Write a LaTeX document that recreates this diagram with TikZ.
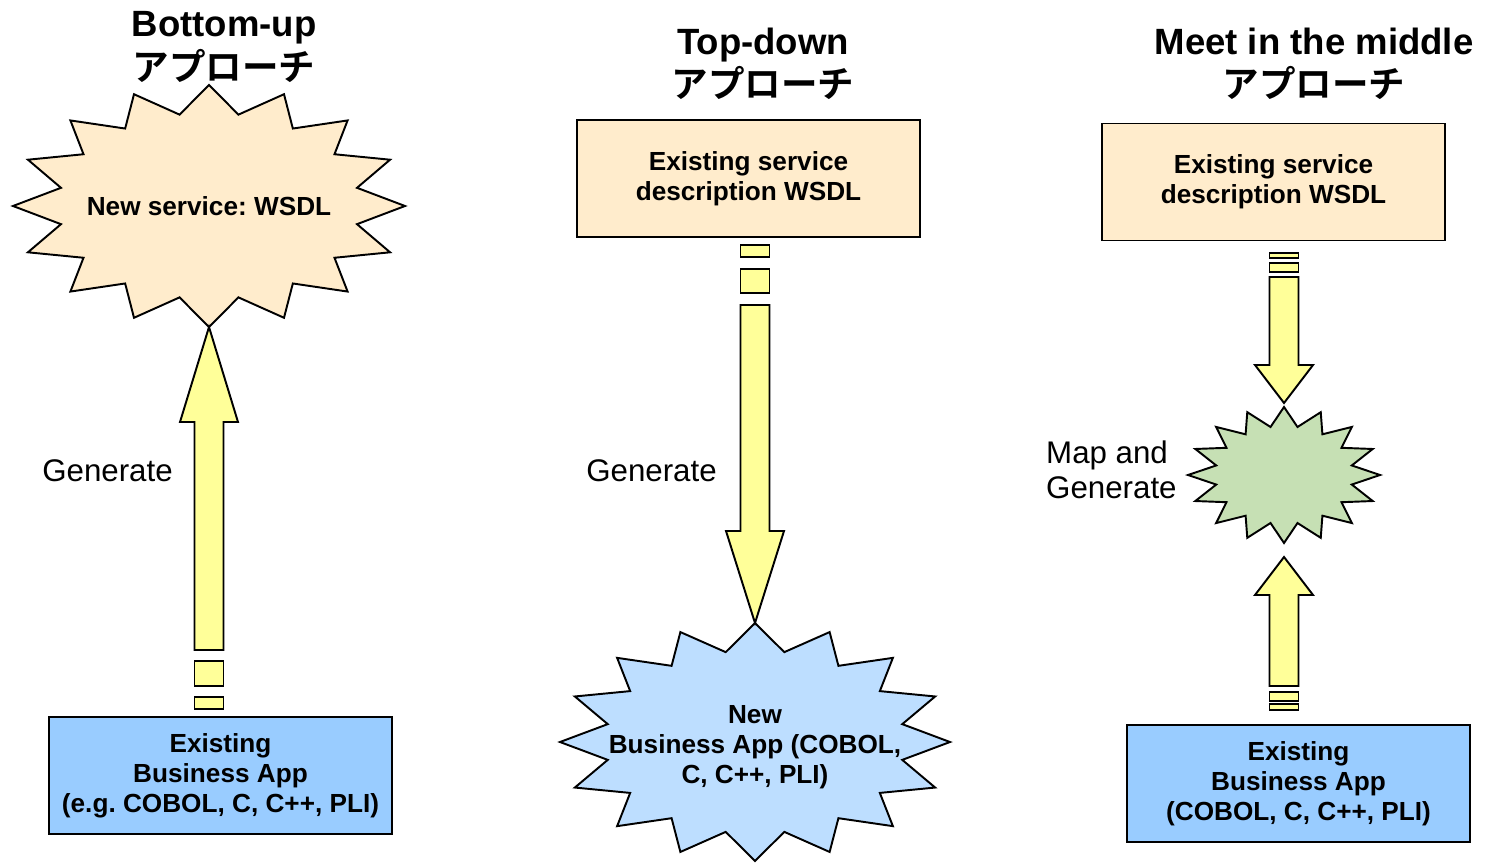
\documentclass[tikz,border=0pt]{standalone}
\usepackage{fontspec}
\setmainfont{Liberation Sans}
\newfontfamily\jpfont{Noto Sans CJK JP}[BoldFont={Noto Sans CJK JP Bold}]
\usetikzlibrary{calc}
\frenchspacing

\definecolor{svcfill}{RGB}{255,236,204}
\definecolor{appfill}{RGB}{153,204,255}
\definecolor{newappfill}{RGB}{189,222,255}
\definecolor{mapfill}{RGB}{198,224,180}
\definecolor{genfill}{RGB}{255,255,153}

\tikzset{
  outline/.style={draw=black, line width=1.1pt, line join=miter},
  boxtext/.style={font=\fontsize{14.9}{17}\selectfont\bfseries, align=center},
  svcbox/.style={outline, boxtext, fill=svcfill, minimum width=6.86cm, minimum height=2.34cm},
  appbox/.style={svcbox, fill=appfill},
  title/.style={font=\fontsize{20.8}{24.5}\selectfont\bfseries, align=center},
  gentext/.style={font=\fontsize{17.8}{20}\selectfont},
}

% starburst: [text options], name, centre, rx, ry, inner ratio, fill, text
\newcommand{\burst}[8][]{%
  \draw[outline, fill=#7, shift={#3}] plot[samples at={0,...,31}]
    ({#4*(1-(1-#6)*mod(\x,2))*cos(90+11.25*\x)}, {#5*(1-(1-#6)*mod(\x,2))*sin(90+11.25*\x)}) -- cycle;
  \node[boxtext, #1] (#2) at #3 {#8};
  \coordinate (#2-n) at ($#3+(0,-#5)$);
  \coordinate (#2-s) at ($#3+(0,#5)$);}

% block arrow: tip, 1 = up / -1 = down, head length, shaft end, dashes
\newcommand{\genarrow}[5]{%
  \begin{scope}[yscale=#2]
    \draw[outline, fill=genfill] (#1) -- ++(29,#3) -- ++(-14.5,0) -- ++(0,#4-#3)
      -- ++(-29,0) -- ++(0,#3-#4) -- ++(-14.5,0) -- cycle;
    \foreach \dstart/\dlen in {#5}
      \draw[outline, fill=genfill] (#1) ++(-14.5,\dstart) rectangle ++(29,\dlen);
  \end{scope}}

\begin{document}
\begin{tikzpicture}[x=0.02cm, y=-0.02cm]
  \useasboundingbox (0,0) rectangle (1486,862);

  % Bottom-up
  \node[title] (bu) at (224,47) {Bottom-up\\{\jpfont アプローチ}};
  \burst{newsvc}{(209,206)}{196}{121}{0.77}{svcfill}{New service: WSDL}
  \node[appbox] (oldapp) at (220.5,775.5) {Existing\\Business App\\(e.g. COBOL, C, C++, PLI)};
  \genarrow{newsvc-s}{1}{95}{323}{334/25, 370/12}
  \node[gentext] (gen1) at (107.5,471) {Generate};

  % Top-down
  \node[title] (td) at (763,64) {Top-down\\{\jpfont アプローチ}};
  \node[svcbox] (oldsvc) at (748.5,178.5) {Existing service\\description WSDL};
  \burst[yshift=-0.1cm]{newapp}{(755,742)}{195}{119}{0.77}{newappfill}{New\\Business App (COBOL,\\C, C++, PLI)}
  \genarrow{newapp-n}{-1}{92}{318}{330/24, 366/12}
  \node[gentext] (gen2) at (651.5,471) {Generate};

  % Meet in the middle
  \node[title] (mm) at (1314,64) {Meet in the middle\\{\jpfont アプローチ}};
  \node[svcbox] (midsvc) at (1273.5,182) {Existing service\\description WSDL};
  \node[appbox] (midapp) at (1298.5,783.5) {Existing\\Business App\\(COBOL, C, C++, PLI)};
  \burst{mapgen}{(1284,475)}{96}{68}{0.72}{mapfill}{}
  \coordinate (maptop) at ($(mapgen-n)+(0,-4)$);
  \coordinate (mapbot) at ($(mapgen-s)+(0,14)$);
  \genarrow{maptop}{-1}{38}{126}{131/9, 145/5}
  \genarrow{mapbot}{1}{38}{129}{135/9, 147/6}
  \node[gentext, align=left, anchor=west] (gen3) at (1040,470) {Map and\\Generate};
\end{tikzpicture}
\end{document}
